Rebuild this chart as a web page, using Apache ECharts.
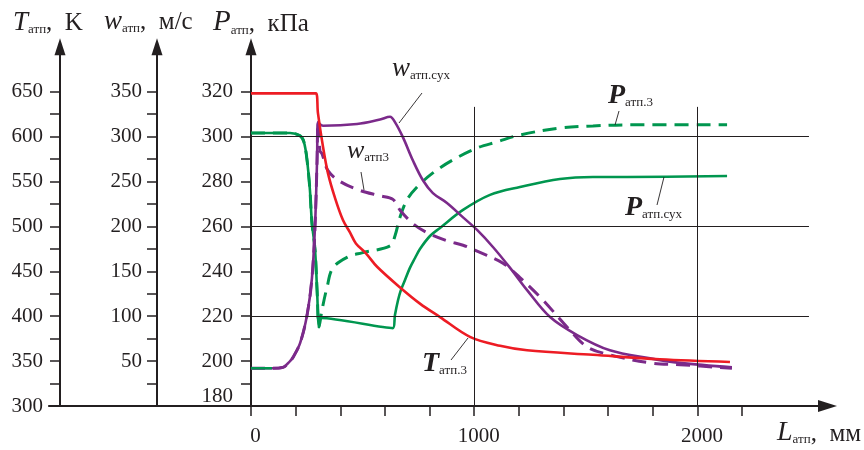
<!DOCTYPE html>
<html><head><meta charset="utf-8">
<script src="https://cdn.jsdelivr.net/npm/echarts@6/dist/echarts.min.js"></script>
<style>html,body{margin:0;padding:0;background:#fff}#c{width:864px;height:450px}</style>
</head><body><div id="c"></div>
<script>
// ---- data (L in mm) ----
const tL = [0, 291, 300, 323, 345, 376, 412, 444, 470, 515, 565, 668, 757, 847, 981, 1116, 1237, 1532, 1832, 2146];
const tV = [648, 648, 626, 588, 559, 532, 507, 493, 481, 470, 455, 432, 414, 399, 377, 367, 362, 357, 352, 349];

const pSuxL = [0, 175, 220, 237, 251, 264, 273, 287, 296, 305, 314, 636, 645, 659, 672, 690, 712, 735, 757, 802, 847, 950, 1071, 1205, 1384, 1532, 1685, 2133];
const pSuxV = [301.6, 301.6, 300.3, 297.6, 289.6, 276.2, 261.5, 249.5, 231.7, 215.2, 219.2, 214.7, 220.5, 227.2, 231.7, 236.1, 241.5, 245.9, 249.9, 255.7, 259.3, 267.3, 274, 277.5, 281.1, 282, 282, 282.4];

const p3L = [0, 175, 220, 237, 251, 264, 273, 287, 296, 305, 318, 341, 367, 435, 497, 623, 645, 668, 699, 744, 815, 905, 1013, 1102, 1205, 1384, 1532, 1685, 2133];
const p3V = [301.6, 301.6, 300.3, 297.6, 289.6, 276.2, 261.5, 249.5, 231.7, 215.2, 222.7, 233, 241.5, 246.4, 248.2, 251.3, 255.7, 264.2, 271.8, 277.5, 283.8, 289.6, 294.9, 297.6, 300.7, 303.8, 304.7, 305.2, 305.2];

const wSuxL = [0, 94, 143, 175, 188, 220, 251, 273, 287, 296, 300, 323, 475, 578, 623, 645, 681, 726, 771, 815, 878, 950, 1013, 1084, 1160, 1237, 1340, 1461, 1608, 1788, 1922, 2155];
const wSuxV = [42, 42, 43, 50, 54, 70, 101, 142, 201, 273, 316, 312, 314, 319, 322, 316, 299, 273, 251, 237, 226, 210, 196, 177, 154, 129, 99, 79, 62, 53, 48, 43];

const w3L = [0, 94, 143, 175, 188, 220, 251, 273, 287, 296, 300, 309, 318, 345, 399, 488, 578, 636, 668, 726, 789, 878, 950, 1026, 1129, 1205, 1308, 1416, 1505, 1608, 1788, 1922, 2155];
const w3V = [42, 42, 43, 50, 54, 70, 101, 142, 201, 273, 316, 284, 281, 262, 250, 240, 234, 230, 218, 203, 193, 184, 179, 171, 159, 143, 118, 88, 66, 57, 48, 46, 42];

// ticks / labels
const xTicks = [0, 200, 400, 600, 800, 1000, 1200, 1400, 1600, 1800, 2000, 2200];
const xLabels = [0, 1000, 2000];
const pTicks = [190, 200, 210, 220, 230, 240, 250, 260, 270, 280, 290, 300, 310, 320];
const pLabels = [180, 200, 220, 240, 260, 280, 300, 320];
const tTicks = [325, 350, 375, 400, 425, 450, 475, 500, 525, 550, 575, 600, 625, 650];
const tLabels = [300, 350, 400, 450, 500, 550, 600, 650];
const wTicks = [25, 50, 75, 100, 125, 150, 175, 200, 225, 250, 275, 300, 325, 350];
const wLabels = [50, 100, 150, 200, 250, 300, 350];
const gridP = [300, 260, 220];
const gridL = [1000, 2000];

const zip = (a, b) => a.map((v, i) => [v, b[i]]);

const INK = '#231f20';
const RED = '#ed1c24';
const GREEN = '#00964f';
const PURPLE = '#7b2a8a';
const FONT = "'Liberation Serif','Times New Roman',serif";
const SM = 0.35;

function yAx(min, max, offset, ticks, labels, margin, fmt) {
  return {
    type: 'value', min: min, max: max, position: 'left', offset: offset,
    axisLine: {show: true, onZero: false, symbol: ['none', 'triangle'], symbolSize: [11, 17],
      lineStyle: {color: INK, width: 2}},
    axisTick: {show: true, customValues: ticks, length: 10, lineStyle: {color: INK, width: 1.5}},
    axisLabel: {customValues: labels, margin: margin, color: INK, fontFamily: FONT, fontSize: 21,
      formatter: fmt || (v => String(v)),
      rich: {lo: {fontFamily: FONT, fontSize: 21, color: INK, padding: [0, 0, 20, 0]}}},
    splitLine: {show: false}
  };
}

const gridLines = gridP.map(p => [{coord: [0, p]}, {coord: [2500, p]}])
  .concat(gridL.map(l => [{coord: [l, 180]}, {coord: [l, 313.2]}]));

function rt(x, base, main, sub, tail, o) {
  o = o || {};
  const fm = o.fm || 26, fs = o.fs || 13, ft = o.ft || 25, d = (o.d == null ? 5 : o.d);
  const mainOff = fm / 2 - 0.34 * fm;
  const bottom = base + mainOff;
  const Ls = Math.max(1, 2 * (mainOff - d + 0.34 * fs));
  let text = '{m|' + main + '}{s|' + sub + '}';
  if (tail) text += '{t|' + tail + '}';
  return {
    type: 'text', z: 100, silent: true,
    style: {
      x: x, y: bottom, text: text, align: 'left', verticalAlign: 'bottom',
      rich: {
        m: {fontFamily: FONT, fontStyle: 'italic', fontWeight: o.bold ? 'bold' : 'normal', fontSize: fm, lineHeight: fm, verticalAlign: 'bottom', fill: INK, color: INK},
        s: {fontFamily: FONT, fontSize: fs, lineHeight: Ls, verticalAlign: 'bottom', fill: INK, color: INK},
        t: {fontFamily: FONT, fontSize: ft, lineHeight: ft, verticalAlign: 'bottom', fill: INK, color: INK}
      }
    }
  };
}
function ld(x1, y1, x2, y2) {
  return {type: 'line', z: 100, silent: true, shape: {x1: x1, y1: y1, x2: x2, y2: y2}, style: {stroke: INK, lineWidth: 0.9}};
}

const chart = echarts.init(document.getElementById('c'), null, {renderer: 'canvas'});
chart.setOption({
  animation: false,
  backgroundColor: '#fff',
  grid: {left: 49, right: 36.5, top: 46.7, bottom: 44, containLabel: false},
  xAxis: {
    type: 'value', min: -905, max: 2583,
    axisLine: {onZero: false, symbol: ['none', 'triangle'], symbolSize: [12, 19], lineStyle: {color: INK, width: 2.2}},
    axisTick: {customValues: xTicks, length: 10, lineStyle: {color: INK, width: 1.5}},
    axisLabel: {customValues: xLabels, margin: 20, color: INK, fontFamily: FONT, fontSize: 21,
      formatter: v => '{a|' + v + '}',
      rich: {a: {fontFamily: FONT, fontSize: 21, color: INK, padding: [0, 0, 0, 9]}}},
    splitLine: {show: false}
  },
  yAxis: [
    yAx(180, 340, -202, pTicks, pLabels, 18, v => v === 180 ? '{lo|180}' : String(v)),
    yAx(300, 700, -11, tTicks, tLabels, 17),
    yAx(0, 400, -108, wTicks, wLabels, 15)
  ],
  series: [
    {type: 'line', yAxisIndex: 0, data: zip(p3L, p3V), showSymbol: false, smooth: SM,
      lineStyle: {color: GREEN, width: 3, type: [14, 8]}},
    {type: 'line', yAxisIndex: 0, data: zip(pSuxL, pSuxV), showSymbol: false, smooth: SM,
      lineStyle: {color: GREEN, width: 2.6},
      markLine: {silent: true, symbol: ['none', 'none'], label: {show: false},
        lineStyle: {color: INK, width: 1, type: 'solid'}, data: gridLines}},
    {type: 'line', yAxisIndex: 2, data: zip(w3L, w3V), showSymbol: false, smooth: SM,
      lineStyle: {color: PURPLE, width: 3, type: [14, 8]}},
    {type: 'line', yAxisIndex: 2, data: zip(wSuxL, wSuxV), showSymbol: false, smooth: SM,
      lineStyle: {color: PURPLE, width: 2.6}},
    {type: 'line', yAxisIndex: 2, data: zip(wSuxL.slice(0, 2), wSuxV.slice(0, 2)), showSymbol: false,
      lineStyle: {color: GREEN, width: 2.6}},
    {type: 'line', yAxisIndex: 1, data: zip(tL, tV), showSymbol: false, smooth: SM,
      lineStyle: {color: RED, width: 2.6}}
  ],
  graphic: [
    rt(13, 32, 'T', 'атп', ',  K', {d: 3, fm: 27}),
    rt(104, 31, 'w', 'атп', ',  м/с', {d: 3, fm: 27}),
    rt(213, 32, 'P', 'атп', ',  кПа', {d: 3, fm: 29}),
    rt(777, 442, 'L', 'атп', ',  мм', {d: 5, fm: 28}),
    rt(392, 78, 'w', 'атп.сух', '', {d: 7, fm: 27}),
    rt(347, 160, 'w', 'атп3', '', {d: 7, fm: 26}),
    rt(608, 105, 'P', 'атп.3', '', {d: 5, fm: 28, bold: true}),
    rt(625, 217, 'P', 'атп.сух', '', {d: 7, fm: 28, bold: true}),
    rt(422, 373, 'T', 'атп.3', '', {d: 5, fm: 28, bold: true}),
    ld(422, 93, 399, 123),
    ld(361, 172, 364, 190),
    ld(619, 111, 615, 125),
    ld(664, 177, 657, 205),
    ld(468, 338, 451, 360)
  ]
});
</script>
</body></html>
